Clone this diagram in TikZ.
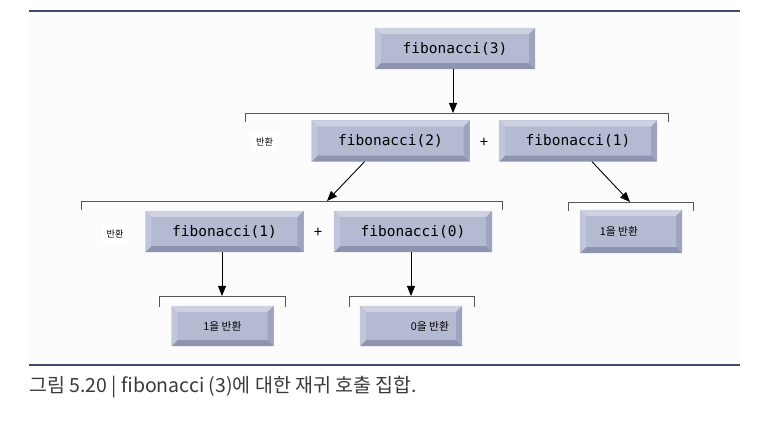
\documentclass[tikz,border=0pt]{standalone}
\usepackage{fontspec}
\setmainfont{Noto Sans CJK KR}
\newfontfamily\monof{DejaVu Sans Mono}
\usetikzlibrary{arrows.meta}
\definecolor{face}{HTML}{B4BAD2}
\definecolor{btop}{HTML}{CDD1E2}
\definecolor{bleft}{HTML}{C2C6DA}
\definecolor{bright}{HTML}{9EA4BF}
\definecolor{bbot}{HTML}{8E94B0}
\definecolor{rulec}{HTML}{3E4A67}
\definecolor{brk}{HTML}{555555}
\definecolor{capc}{HTML}{3A3A3A}
\newcommand\bev[1]{%
  \fill[btop] (#1.north west) -- (#1.north east) -- ([xshift=-6pt,yshift=-6pt]#1.north east) -- ([xshift=6pt,yshift=-6pt]#1.north west) -- cycle;
  \fill[bbot] (#1.south west) -- (#1.south east) -- ([xshift=-6pt,yshift=6pt]#1.south east) -- ([xshift=6pt,yshift=6pt]#1.south west) -- cycle;
  \fill[bleft] (#1.north west) -- (#1.south west) -- ([xshift=6pt,yshift=6pt]#1.south west) -- ([xshift=6pt,yshift=-6pt]#1.north west) -- cycle;
  \fill[bright] (#1.north east) -- (#1.south east) -- ([xshift=-6pt,yshift=6pt]#1.south east) -- ([xshift=-6pt,yshift=-6pt]#1.north east) -- cycle;
}
\tikzset{
  fbox/.style={fill=face, inner sep=0pt, minimum width=158pt, minimum height=41pt, font=\monof\fontsize{14.5}{17}\selectfont, text=black},
  rbox/.style={fill=face, inner sep=0pt, minimum width=102pt, minimum height=42pt, font=\fontsize{10.8}{12}\selectfont, text=black},
  small/.style={font=\fontsize{9.2}{11}\selectfont, fill=white, inner xsep=5pt, inner ysep=6pt},
  plus/.style={font=\fontsize{15}{17}\selectfont},
  brack/.style={draw=brk, line width=0.9pt},
  arr/.style={draw=black, line width=0.9pt, -{Triangle[length=10pt,width=8pt]}},
  rulel/.style={draw=rulec, line width=1.4pt}
}
\begin{document}
\begin{tikzpicture}[x=1pt,y=-1pt]
\useasboundingbox (0,0) rectangle (782,427);
\fill[black!1] (30,12) rectangle (740,365);
\draw[rulel] (29,11) -- (740,11);
\draw[rulel] (29,365) -- (740,365);

% boxes
\node[fbox, minimum width=160pt] (f3) at (455,48.5) {};
\node[fbox] (f2) at (390.5,141) {};
\node[fbox] (f1a) at (578,141) {};
\node[fbox] (f1b) at (224.5,231.5) {};
\node[fbox] (f0) at (413,231.5) {};
\node[rbox, minimum height=43pt] (r1a) at (631,231.5) {};
\node[rbox, minimum height=40pt] (r1b) at (222.5,326) {};
\node[rbox, minimum height=40pt] (r0) at (411,326) {};
\bev{f3}\bev{f2}\bev{f1a}\bev{f1b}\bev{f0}\bev{r1a}\bev{r1b}\bev{r0}
\node[fbox, fill=none] (t3) at (f3.center) {fibonacci(3)};
\node[fbox, fill=none] (t2) at (f2.center) {fibonacci(2)};
\node[fbox, fill=none] (t1a) at (f1a.center) {fibonacci(1)};
\node[fbox, fill=none] (t1b) at (f1b.center) {fibonacci(1)};
\node[fbox, fill=none] (t0) at (f0.center) {fibonacci(0)};
\node[rbox, fill=none] (s1a) at ([xshift=-12pt]r1a.center) {1을 반환};
\node[rbox, fill=none] (s1b) at (r1b.center) {1을 반환};
\node[rbox, fill=none] (s0) at ([xshift=19pt]r0.center) {0을 반환};

% labels
\node[small] (l1) at (264.5,142) {반환};
\node[small] (l2) at (115,234) {반환};
\node[plus] (p1) at (484,143) {+};
\node[plus] (p2) at (318,233) {+};

% brackets
\coordinate (b1l) at (245,113);
\coordinate (b1r) at (668,113);
\coordinate (b1t) at (453,113);
\draw[brack] ([yshift=-9pt]b1l) -- (b1l) -- (b1r) -- ([yshift=-9pt]b1r);
\coordinate (b2l) at (81,201);
\coordinate (b2r) at (502,201);
\coordinate (b2t) at (327,201);
\draw[brack] ([yshift=-9pt]b2l) -- (b2l) -- (b2r) -- ([yshift=-9pt]b2r);
\coordinate (b3l) at (568,202);
\coordinate (b3r) at (693,202);
\coordinate (b3t) at (630,202);
\draw[brack] ([yshift=-9pt]b3l) -- (b3l) -- (b3r) -- ([yshift=-9pt]b3r);
\coordinate (b4l) at (159,296);
\coordinate (b4r) at (285,296);
\coordinate (b4t) at (222,296);
\draw[brack] ([yshift=-11pt]b4l) -- (b4l) -- (b4r) -- ([yshift=-11pt]b4r);
\coordinate (b5l) at (349,296);
\coordinate (b5r) at (474,296);
\coordinate (b5t) at (411,296);
\draw[brack] ([yshift=-11pt]b5l) -- (b5l) -- (b5r) -- ([yshift=-11pt]b5r);

% arrows
\draw[arr] (f3.south -| b1t) -- (b1t);
\draw[arr] ([xshift=-26pt]f2.south) -- (b2t);
\draw[arr] ([xshift=14pt]f1a.south) -- (b3t);
\draw[arr] (f1b.south -| b4t) -- (b4t);
\draw[arr] (f0.south -| b5t) -- (b5t);

% caption
\node[anchor=west, text=capc, font=\fontsize{19.5}{23}\selectfont, inner sep=0pt] (cap) at (29,387) {그림 5.20 | fibonacci (3)에 대한 재귀 호출 집합.};
\end{tikzpicture}
\end{document}
